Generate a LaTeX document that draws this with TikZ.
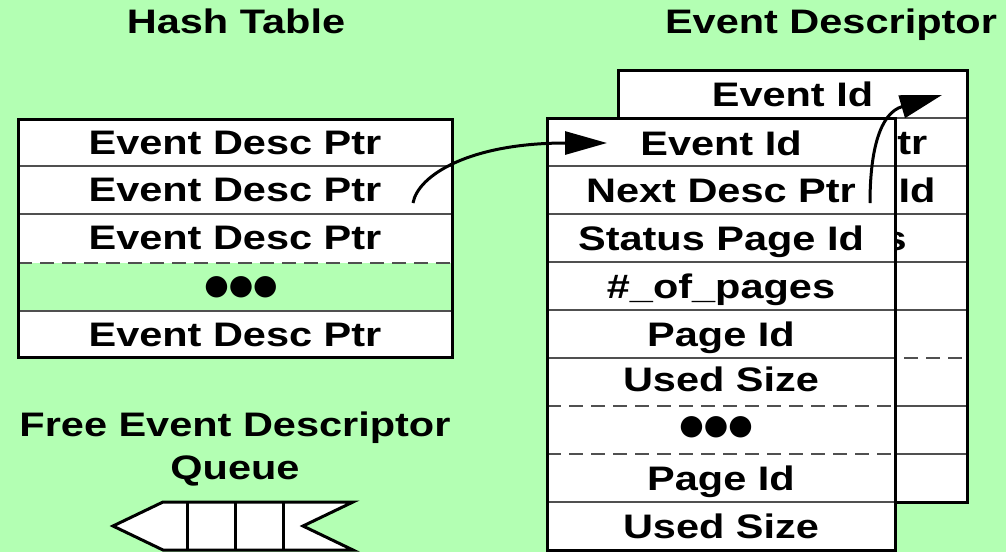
\documentclass[tikz,border=0pt]{standalone}
\usepackage{fontspec}
\newfontfamily\lab[FakeStretch=1.22]{Liberation Sans}
\newfontfamily\dotfont{DejaVu Sans}
\usetikzlibrary{arrows.meta}
\definecolor{bg}{RGB}{179,255,179}
\definecolor{sepc}{RGB}{80,80,80}
\begin{document}
\begin{tikzpicture}[x=1pt,y=-1pt,
  txt/.style={font=\lab\bfseries\fontsize{34}{34}\selectfont, inner sep=0pt, anchor=base},
  outer/.style={draw=black, line width=3pt},
  sepl/.style={draw=sepc, line width=1.2pt},
  dashsep/.style={draw=sepc, line width=1.2pt, dash pattern=on 14pt off 8pt},
  ptr/.style={line width=3pt, -{Triangle[length=42pt,width=23pt]}},
  dotsty/.style={font=\dotfont\fontsize{28}{28}\selectfont, inner sep=0pt}]
\fill[bg] (0,0) rectangle (1006,552);
\useasboundingbox (0,0) rectangle (1006,552);

% ---------- back event descriptor ----------
\fill[white] (618,70) rectangle (967,502);
\foreach \yy in {118,166,214,262,310,406,454} \draw[sepl] (618,\yy) -- (967,\yy);
\draw[dashsep] (618,358) -- (967,358);
\draw[outer] (618,70) rectangle (967,502);
\node[txt] (b1) at (792.5,106) {Event Id};
\node[txt] (b2) at (792.5,154) {Next Desc Ptr};
\node[txt] (b3) at (792.5,202) {Status Page Id};
\node[txt] (b4) at (792.5,250) {\#\_of\_pages};
\node[txt] (b5) at (792.5,298) {Page Id};
\node[txt] (b6) at (792.5,343) {Used Size};
\node[dotsty] (b7) at (787.5,380) {●●●};
\node[txt] (b8) at (792.5,441) {Page Id};
\node[txt] (b9) at (792.5,489) {Used Size};

% ---------- front event descriptor ----------
\fill[white] (547,118) rectangle (895,550);
\foreach \yy in {166,214,262,310,358,502} \draw[sepl] (547,\yy) -- (895,\yy);
\draw[dashsep] (547,406) -- (895,406);
\draw[dashsep] (547,454) -- (895,454);
\draw[outer] (547,118) rectangle (895,550);
\node[txt] (f1) at (721,155) {Event Id};
\node[txt] (f2) at (721,202) {Next Desc Ptr};
\node[txt] (f3) at (721,250) {Status Page Id};
\node[txt] (f4) at (721,298) {\#\_of\_pages};
\node[txt] (f5) at (721,346) {Page Id};
\node[txt] (f6) at (721,391.5) {Used Size};
\node[dotsty] (f7) at (716,427) {●●●};
\node[txt] (f8) at (721,490) {Page Id};
\node[txt] (f9) at (721,538) {Used Size};

% ---------- hash table ----------
\fill[white] (18,119) rectangle (452,263);
\fill[white] (18,311) rectangle (452,357);
\foreach \yy in {166,214,311} \draw[sepl] (18,\yy) -- (452,\yy);
\draw[dashsep] (18,263) -- (452,263);
\draw[outer] (18,119) rectangle (452,357);
\node[txt] (h1) at (235,154) {Event Desc Ptr};
\node[txt] (h2) at (235,201.5) {Event Desc Ptr};
\node[txt] (h3) at (235,249.5) {Event Desc Ptr};
\node[dotsty] (h4) at (241,287) {●●●};
\node[txt] (h5) at (235,346.5) {Event Desc Ptr};

% ---------- pointers ----------
\coordinate (a1s) at (413,203);
\coordinate (a1e) at (607,143);
\draw[ptr] (a1s) .. controls (418,175) and (470,143) .. (a1e);
\coordinate (a2s) at (870,203);
\coordinate (a2e) at (942,95);
\draw[ptr] (a2s) .. controls (870,150) and (880,113) .. (a2e);

% ---------- free queue ----------
\draw[outer, fill=white, line join=miter] (113,526) -- (163,502) -- (353,502) -- (303,526) -- (353,550) -- (163,550) -- cycle;
\foreach \xx in {187,235,283} \draw[outer] (\xx,502) -- (\xx,550);

% ---------- titles ----------
\node[txt] (ht) at (236,33) {Hash Table};
\node[txt] (edt) at (831,33) {Event Descriptor};
\node[txt] (fq1) at (235,436.5) {Free Event Descriptor};
\node[txt] (fq2) at (235,479.5) {Queue};
\end{tikzpicture}
\end{document}
